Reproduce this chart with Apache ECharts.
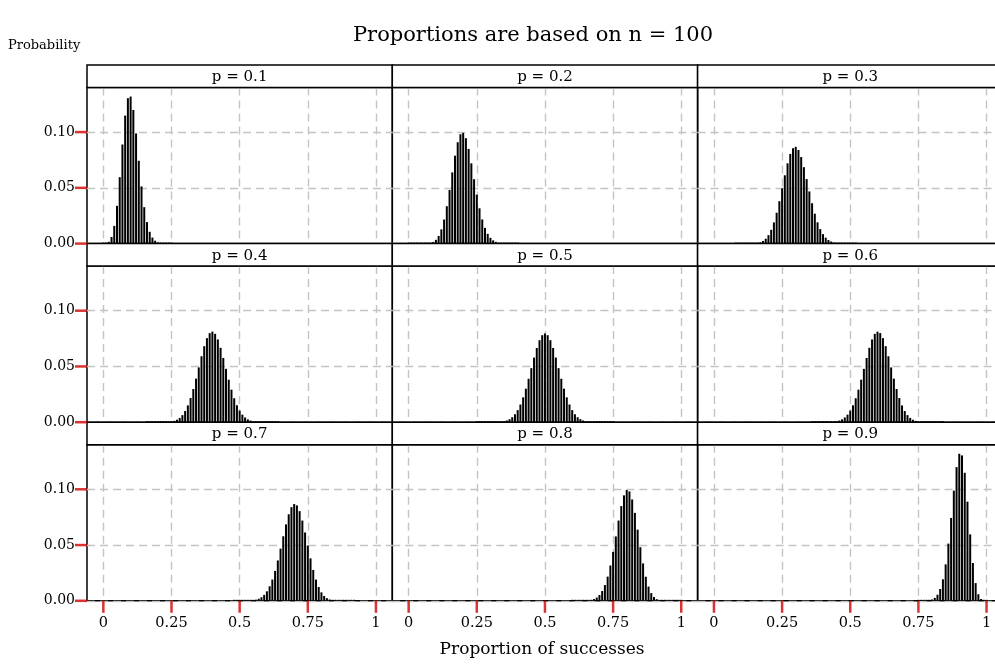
<!DOCTYPE html>
<html><head><meta charset="utf-8">
<script src="https://cdn.jsdelivr.net/npm/echarts@6/dist/echarts.min.js"></script>
<style>html,body{margin:0;padding:0;background:#fff}#c{width:995px;height:664px}</style>
</head><body><div id="c"></div>
<script>
// ---- data ----
const panelLabels = ['p = 0.1','p = 0.2','p = 0.3','p = 0.4','p = 0.5','p = 0.6','p = 0.7','p = 0.8','p = 0.9'];
// first number of successes (out of n = 100) shown in each panel
const firstSuccess = [0, 0, 8, 16, 25, 36, 48, 60, 75];
const prob01 = [0.0000266,0.000295,0.00162,0.00589,0.01588,0.03387,0.05958,0.08890,0.11483,0.13042,0.13187,0.11988,0.09879,0.07430,0.05130,0.03268,0.01929,0.01059,0.005426,0.002602,0.001171,0.000496,0.000198,0.0000744,0.0000265,0.0000090];
const prob02 = [2e-10,5.1e-9,6.3e-8,5.1e-7,3.1e-6,1.5e-5,5.93e-5,0.000199,0.000578,0.001478,0.003362,0.00688,0.01275,0.02158,0.03353,0.04806,0.06383,0.07885,0.09090,0.09807,0.09930,0.09457,0.08490,0.07198,0.05773,0.04388,0.03164,0.02168,0.01413,0.00877,0.00519,0.00293,0.00158,0.00081,0.00040,0.000188,8.47e-5,3.66e-5,1.52e-5,6.0e-6,2.3e-6];
const prob03 = [6.8e-8,3.0e-7,1.2e-6,4.1e-6,1.30e-5,3.78e-5,1.01e-4,2.48e-4,5.64e-4,0.001194,0.002360,0.004365,0.007576,0.01237,0.01904,0.02767,0.03804,0.04956,0.06127,0.07197,0.08041,0.08556,0.08678,0.08398,0.07761,0.06854,0.05788,0.04678,0.03620,0.02683,0.01907,0.01299,0.008491,0.005325,0.003206,0.001853,0.001029,0.000549,0.000281,0.000138,6.55e-5,2.98e-5,1.30e-5,5.5e-6,2.2e-6];
const prob04 = [1.3e-7,4.4e-7,1.4e-6,3.9e-6,1.05e-5,2.68e-5,6.41e-5,1.45e-4,3.10e-4,6.28e-4,0.001207,0.002205,0.003833,0.006344,0.01001,0.01507,0.02166,0.02975,0.03908,0.04913,0.05914,0.06820,0.07538,0.07989,0.08122,0.07924,0.07421,0.06673,0.05763,0.04781,0.03811,0.02919,0.02149,0.01520,0.01034,0.006757,0.004245,0.002563,0.001487,8.29e-4,4.44e-4,2.29e-4,1.13e-4,5.35e-5,2.44e-5,1.07e-5,4.5e-6,1.8e-6,6.9e-7];
const prob05 = [1.9e-7,5.6e-7,1.5e-6,3.9e-6,9.8e-6,2.32e-5,5.24e-5,1.13e-4,2.32e-4,4.58e-4,8.64e-4,0.001560,0.002698,0.004472,0.007110,0.01084,0.01587,0.02229,0.03007,0.03895,0.04847,0.05796,0.06659,0.07353,0.07803,0.07959,0.07803,0.07353,0.06659,0.05796,0.04847,0.03895,0.03007,0.02229,0.01587,0.01084,0.007110,0.004472,0.002698,0.001560,8.64e-4,4.58e-4,2.32e-4,1.13e-4,5.24e-5,2.32e-5,9.8e-6,3.9e-6,1.5e-6,5.6e-7,1.9e-7];
const prob06 = [6.9e-7,1.8e-6,4.5e-6,1.07e-5,2.44e-5,5.35e-5,1.13e-4,2.29e-4,4.44e-4,8.29e-4,0.001487,0.002563,0.004245,0.006757,0.01034,0.01520,0.02149,0.02919,0.03811,0.04781,0.05763,0.06673,0.07421,0.07924,0.08122,0.07989,0.07538,0.06820,0.05914,0.04913,0.03908,0.02975,0.02166,0.01507,0.01001,0.006344,0.003833,0.002205,0.001207,6.28e-4,3.10e-4,1.45e-4,6.41e-5,2.68e-5,1.05e-5,3.9e-6,1.4e-6,4.4e-7,1.3e-7];
const prob07 = [2.2e-6,5.5e-6,1.30e-5,2.98e-5,6.55e-5,0.000138,0.000281,0.000549,0.001029,0.001853,0.003206,0.005325,0.008491,0.01299,0.01907,0.02683,0.03620,0.04678,0.05788,0.06854,0.07761,0.08398,0.08678,0.08556,0.08041,0.07197,0.06127,0.04956,0.03804,0.02767,0.01904,0.01237,0.007576,0.004365,0.002360,0.001194,5.64e-4,2.48e-4,1.01e-4,3.78e-5,1.30e-5,4.1e-6,1.2e-6,3.0e-7,6.8e-8];
const prob08 = [2.3e-6,6.0e-6,1.52e-5,3.66e-5,8.47e-5,0.000188,0.00040,0.00081,0.00158,0.00293,0.00519,0.00877,0.01413,0.02168,0.03164,0.04388,0.05773,0.07198,0.08490,0.09457,0.09930,0.09807,0.09090,0.07885,0.06383,0.04806,0.03353,0.02158,0.01275,0.00688,0.003362,0.001478,0.000578,0.000199,5.93e-5,1.5e-5,3.1e-6,5.1e-7,6.3e-8,5.1e-9,2e-10];
const prob09 = [0.0000090,0.0000265,0.0000744,0.000198,0.000496,0.001171,0.002602,0.005426,0.01059,0.01929,0.03268,0.05130,0.07430,0.09879,0.11988,0.13187,0.13042,0.11483,0.08890,0.05958,0.03387,0.01588,0.00589,0.00162,0.000295,0.0000266];
const sampleSize = 100;
const xTicks = [0, 0.25, 0.5, 0.75, 1];
const xTickLabels = ['0', '0.25', '0.5', '0.75', '1'];
const yTicks = [0, 0.05, 0.10];
const yTickLabels = ['0.00', '0.05', '0.10'];
const titleText = 'Proportions are based on n = 100';
const yName = 'Probability';
const xName = 'Proportion of successes';

const panelProbs = [prob01, prob02, prob03, prob04, prob05, prob06, prob07, prob08, prob09];

// ---- layout ----
const FONT = 'DejaVu Serif';
const L0 = 87, COLW = 305.3, T0 = 65, ROWH = 178.6, STRIPH = 22.5;
const X_MIN = -0.06, X_MAX = 1.06, Y_MIN = 0, Y_MAX = 0.14;
const grids = [], xAxes = [], yAxes = [], series = [], graphics = [];

panelProbs.forEach((vals, i) => {
  const r = Math.floor(i / 3), c = i % 3;
  const left = L0 + c * COLW, top = T0 + r * ROWH;
  grids.push({left: left, top: top + STRIPH, width: COLW, height: ROWH - STRIPH,
    show: true, borderColor: '#000', borderWidth: 1.5, backgroundColor: 'transparent',
    outerBoundsMode: 'none', containLabel: false});
  xAxes.push({type: 'value', gridIndex: i, min: X_MIN, max: X_MAX,
    axisLine: {show: false},
    axisTick: {show: false, customValues: xTicks},
    axisLabel: {show: r === 2, customValues: xTicks, margin: 15, color: '#000', fontFamily: FONT, fontSize: 14.5,
      formatter: v => xTickLabels[xTicks.indexOf(v)] ?? String(v)},
    splitLine: {show: true, lineStyle: {color: '#c4c4c4', type: [8, 5], width: 1.4}}
  });
  yAxes.push({type: 'value', gridIndex: i, min: Y_MIN, max: Y_MAX,
    axisLine: {show: false},
    axisTick: {show: false, customValues: yTicks},
    axisLabel: {show: c === 0, customValues: yTicks, margin: 12, color: '#000', fontFamily: FONT, fontSize: 14,
      formatter: v => yTickLabels[yTicks.findIndex(t => Math.abs(t - v) < 1e-9)] ?? v.toFixed(2)},
    splitLine: {show: true, lineStyle: {color: '#c4c4c4', type: [8, 5], width: 1.4}}
  });
  series.push({type: 'bar', xAxisIndex: i, yAxisIndex: i, barWidth: 2, barMinHeight: 1,
    itemStyle: {color: '#000'}, silent: true, animation: false,
    data: vals.map((p, j) => [(firstSuccess[i] + j) / sampleSize, p])});
  // outer tick marks as bars hanging below / left of the panel, positioned by the axes
  if (r === 2) {
    series.push({type: 'scatter', xAxisIndex: i, yAxisIndex: i, clip: false, silent: true, z: 20,
      symbol: 'rect', symbolSize: [2.5, 12], symbolOffset: [0, 6],
      itemStyle: {color: '#d00000'}, data: xTicks.map(v => [v, Y_MIN])});
  }
  if (c === 0) {
    series.push({type: 'scatter', xAxisIndex: i, yAxisIndex: i, clip: false, silent: true, z: 20,
      symbol: 'rect', symbolSize: [12, 2.5], symbolOffset: [-6, 0],
      itemStyle: {color: '#d00000'}, data: yTicks.map(v => [X_MIN, v])});
  }
  graphics.push({type: 'rect', shape: {x: left, y: top, width: COLW, height: STRIPH},
    style: {fill: '#fff', stroke: '#000', lineWidth: 1.5}, z: 10});
  graphics.push({type: 'text', x: left + COLW / 2, y: top + STRIPH / 2 + 1, z: 11,
    style: {text: panelLabels[i], fill: '#000', font: '15px "' + FONT + '"', align: 'center', verticalAlign: 'middle'}});
});

graphics.push({type: 'text', x: 533, y: 36, style: {text: titleText, fill: '#000', font: '21px "' + FONT + '"', align: 'center', verticalAlign: 'middle'}});
graphics.push({type: 'text', x: 8, y: 46, style: {text: yName, fill: '#000', font: '13px "' + FONT + '"', align: 'left', verticalAlign: 'middle'}});
graphics.push({type: 'text', x: 542, y: 650, style: {text: xName, fill: '#000', font: '17px "' + FONT + '"', align: 'center', verticalAlign: 'middle'}});

const chart = echarts.init(document.getElementById('c'), null, {renderer: 'canvas'});
chart.setOption({
  animation: false,
  backgroundColor: '#fff',
  grid: grids, xAxis: xAxes, yAxis: yAxes, series: series, graphic: graphics
});
</script></body></html>
